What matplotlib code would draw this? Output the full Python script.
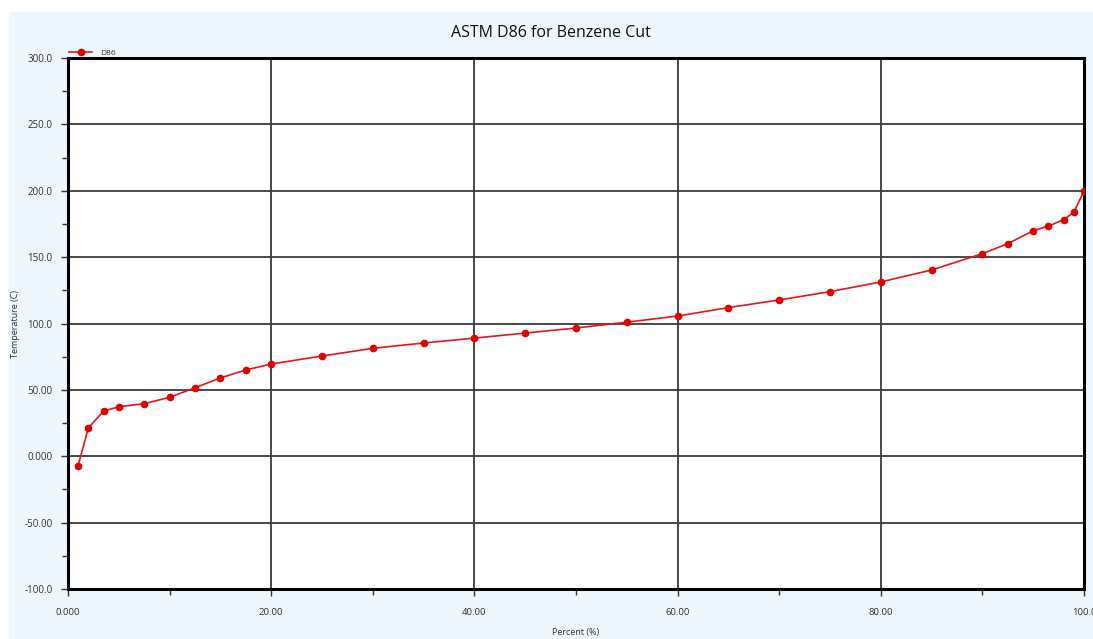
import matplotlib.pyplot as plt
from matplotlib.patches import Rectangle
from matplotlib.ticker import MultipleLocator, FixedFormatter, FixedLocator

plt.rcParams['font.family'] = ['Open Sans', 'DejaVu Sans']

percent = [1, 2, 3.5, 5, 7.5, 10, 12.5, 15, 17.5, 20, 25, 30, 35, 40, 45, 50,
           55, 60, 65, 70, 75, 80, 85, 90, 92.5, 95, 96.5, 98, 99, 100]
temperature = [-7.0, 21.3, 34.0, 37.3, 39.6, 44.4, 51.6, 59.0, 65.0, 69.5,
               75.5, 81.3, 85.3, 89.0, 92.8, 96.6, 101.0, 105.6, 112.0, 117.7,
               124.0, 131.3, 140.3, 152.6, 160.1, 169.9, 173.4, 178.2, 183.8, 199.8]

x_ticks = [0, 20, 40, 60, 80, 100]
x_labels = ["0.000", "20.00", "40.00", "60.00", "80.00", "100.0"]
y_ticks = [-100, -50, 0, 50, 100, 150, 200, 250, 300]
y_labels = ["-100.0", "-50.00", "0.000", "50.00", "100.0", "150.0", "200.0", "250.0", "300.0"]

fig = plt.figure(figsize=(10.93, 6.39), dpi=100)
fig.patch.set_facecolor("white")
fig.add_artist(Rectangle((9 / 1093, 0), 1, 1 - 12 / 639, transform=fig.transFigure,
                         facecolor="#eef6fe", edgecolor="none", zorder=-10))

ax = fig.add_axes([68 / 1093, 1 - 589 / 639, 1016 / 1093, 531 / 639])
ax.set_facecolor("white")
ax.plot(percent, temperature, color="#e8141b", lw=1.2, marker="o", ms=4.5,
        mec="#e00000", mfc="#e00000", label="D86", zorder=3)

ax.set_xlim(0, 100)
ax.set_ylim(-100, 300)
ax.xaxis.set_major_locator(FixedLocator(x_ticks))
ax.xaxis.set_major_formatter(FixedFormatter(x_labels))
ax.yaxis.set_major_locator(FixedLocator(y_ticks))
ax.yaxis.set_major_formatter(FixedFormatter(y_labels))
ax.xaxis.set_minor_locator(MultipleLocator(10))
ax.yaxis.set_minor_locator(MultipleLocator(25))
ax.tick_params(which="both", direction="out", color="#333333", width=1,
               labelcolor="#333333")
ax.tick_params(axis="y", which="major", labelsize=7, pad=6)
ax.tick_params(axis="x", which="major", labelsize=6.8, pad=9)
ax.tick_params(which="major", length=5)
ax.tick_params(which="minor", length=4)
ax.grid(True, which="major", color="#3a3a3a", lw=1.3)
for s in ax.spines.values():
    s.set_linewidth(2.2)
    s.set_color("black")

# title sits centred on the figure, not on the axes
fig.text(551 / 1093, 1 - 33 / 639, "ASTM D86 for Benzene Cut", fontsize=11.5,
         color="#111111", ha="center", va="center")
ax.set_xlabel("Percent (%)", fontsize=6.5, color="#333333")
ax.xaxis.set_label_coords(0.5, -0.074)
ax.set_ylabel("Temperature (C)", fontsize=6.5, color="#333333")
ax.yaxis.set_label_coords(-0.047, 0.5)

ax.legend(loc="lower left", bbox_to_anchor=(0, 1.0), frameon=False, fontsize=6,
          handlelength=2.8, handletextpad=1.0, borderaxespad=0, borderpad=0.1,
          labelcolor="#333333")

fig.savefig("out.png", dpi=100)
